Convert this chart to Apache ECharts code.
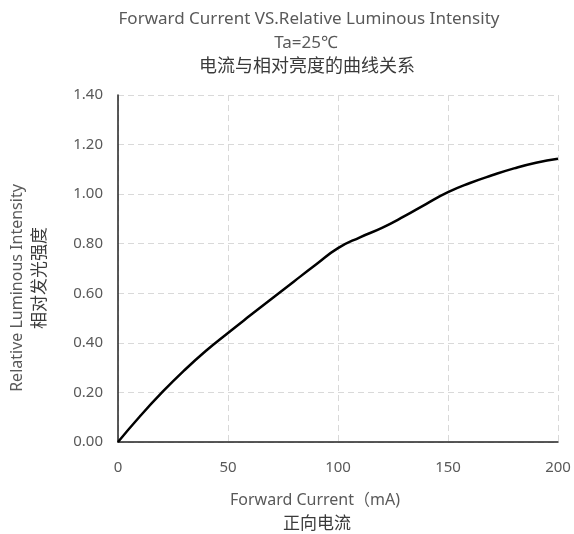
<!DOCTYPE html>
<html>
<head>
<meta charset="utf-8">
<script src="https://cdn.jsdelivr.net/npm/echarts@6/dist/echarts.min.js"></script>
<style>
html,body{margin:0;padding:0;background:#fff;}
#c{width:574px;height:534px;}
</style>
</head>
<body>
<div id="c"></div>
<script>
const currentMA = [0, 10, 20, 30, 40, 50, 60, 70, 80, 90, 100, 110, 120, 130, 140, 150, 160, 170, 180, 190, 200];
const relIntensity = [0, 0.104, 0.2, 0.288, 0.368, 0.44, 0.51, 0.579, 0.648, 0.716, 0.782, 0.826, 0.864, 0.91, 0.96, 1.008, 1.045, 1.076, 1.104, 1.127, 1.143];
const titleLines = ['Forward Current VS.Relative Luminous Intensity', 'Ta=25℃', '电流与相对亮度的曲线关系'];
const xNameLines = ['Forward Current（mA)', '正向电流'];
const yNameLines = ['Relative Luminous Intensity', '相对发光强度'];

const chart = echarts.init(document.getElementById('c'));
const FONT = '"Noto Sans", "Noto Sans CJK SC", sans-serif';
const grey = '#595959';
const dark = '#3a3a3a';
function txt(text, x, y, size, color, rot) {
  return {
    type: 'text', x: x, y: y, rotation: rot || 0,
    style: {text: text, x: 0, y: 0, fill: color, font: size + 'px ' + FONT, align: 'center', verticalAlign: 'middle'}
  };
}
chart.setOption({
  animation: false,
  backgroundColor: '#fff',
  grid: {left: 118, right: 16, top: 95, bottom: 92},
  xAxis: {
    type: 'value', min: 0, max: 200, interval: 50,
    axisLine: {show: true, lineStyle: {color: '#222', width: 1.5}},
    axisTick: {show: false},
    axisLabel: {color: grey, fontSize: 15, fontFamily: FONT, margin: 18},
    splitLine: {show: true, lineStyle: {color: '#d9d9d9', type: [6, 4], width: 1}}
  },
  yAxis: {
    type: 'value', min: 0, max: 1.4, interval: 0.2,
    axisLine: {show: true, lineStyle: {color: '#222', width: 1.5}},
    axisTick: {show: false},
    axisLabel: {color: grey, fontSize: 15, fontFamily: FONT, margin: 15, formatter: v => v.toFixed(2)},
    splitLine: {show: true, lineStyle: {color: '#d9d9d9', type: [6, 4], width: 1}}
  },
  graphic: [
    txt(titleLines[0], 309, 19, 17, grey),
    txt(titleLines[1], 306, 43, 17, grey),
    txt(titleLines[2], 307, 67, 18, dark),
    txt(xNameLines[0], 315, 500, 16, grey),
    txt(xNameLines[1], 317, 524, 17, dark),
    txt(yNameLines[0], 17, 288, 16, grey, Math.PI / 2),
    txt(yNameLines[1], 40, 278, 17, dark, Math.PI / 2)
  ],
  series: [{
    type: 'line',
    data: currentMA.map((x, i) => [x, relIntensity[i]]),
    smooth: true,
    showSymbol: false,
    lineStyle: {color: '#000', width: 2.5}
  }]
});
</script>
</body>
</html>
